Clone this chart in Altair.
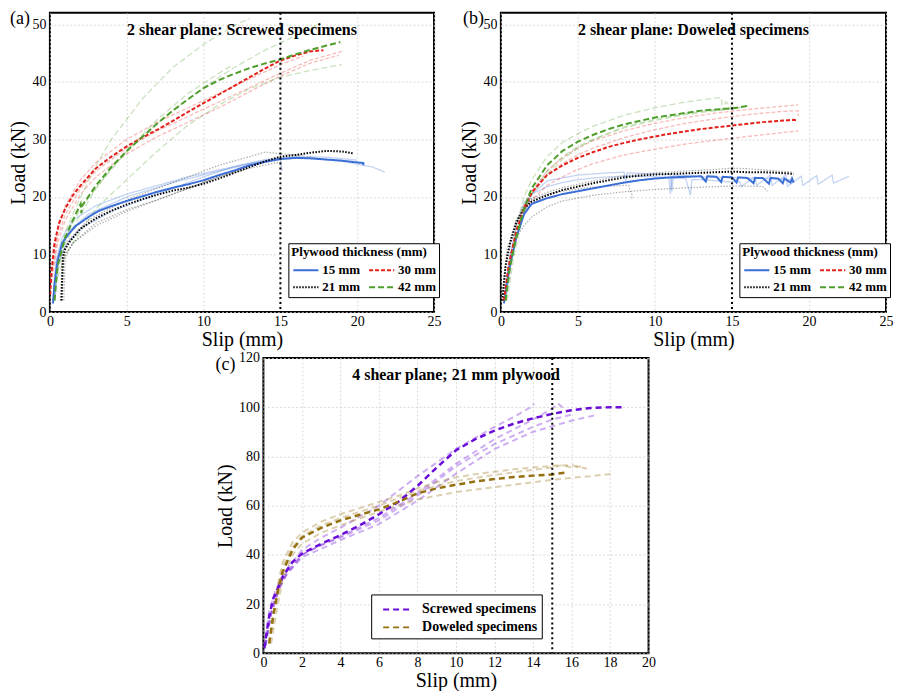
import altair as alt
import pandas as pd

FONT = "Liberation Serif"

# ---------------- Panel (a): 2 shear plane, screwed specimens ----------------
a15_x = [0.2, 0.3, 0.5, 0.8, 1.2, 1.7, 2.5, 3.2, 4, 5, 6, 7, 8, 9, 10, 11, 12, 13, 14, 15, 16, 17, 18, 19, 20, 20.4, 20.4]
a15_y = [1.5, 5, 9, 12, 13.5, 15, 16.5, 17.6, 18.4, 19.3, 20.1, 20.9, 21.6, 22.2, 22.9, 23.8, 24.6, 25.5, 26.1, 26.6, 26.8, 26.7, 26.5, 26.3, 26.0, 25.9, 25.5]
a21_x = [0.75, 0.8, 0.85, 1.0, 1.3, 2, 3, 4, 5, 6, 7, 8, 9, 10, 11, 12, 13, 14, 15, 16, 17, 18, 19, 19.7]
a21_y = [2, 6, 9.5, 11, 12.3, 14.5, 16.3, 17.6, 18.7, 19.6, 20.4, 21.1, 21.6, 22.3, 23.2, 24.2, 25.2, 26.2, 27, 27.3, 27.7, 28, 27.9, 27.6]
a30_x = [0.02, 0.1, 0.3, 0.6, 1.0, 1.5, 2, 3, 4, 5, 6, 7, 8, 9, 10, 11, 12, 13, 14, 15, 16, 17, 17.8]
a30_y = [3, 7, 12, 15.5, 18, 20.3, 22, 25, 27, 28.8, 30.3, 31.7, 33.2, 34.8, 36.3, 37.8, 39.3, 40.8, 42.3, 43.7, 44.6, 45.3, 45.5]
a42_x = [0.3, 0.5, 1, 1.5, 2, 2.05, 2.1, 3, 4, 5, 6, 7, 8, 9, 10, 11, 12, 13, 14, 15, 16, 17, 18, 18.9]
a42_y = [2, 8, 13, 16, 18.8, 17.2, 18.5, 22, 25.2, 28, 30.4, 32.8, 35, 37, 38.9, 40.3, 41.4, 42.4, 43.2, 43.9, 44.8, 45.6, 46.3, 46.9]

# individual specimens (faint)
a15f1_x = [0.2, 0.4, 0.8, 1.5, 3, 5, 7, 9, 11, 13, 15, 17, 19, 21, 21.8]
a15f1_y = [2, 9, 13, 16, 18.5, 20.5, 22, 23.5, 24.7, 25.8, 26.6, 26.8, 26.2, 25.2, 24.3]
a15f2_x = [0.3, 0.5, 1, 2, 4, 6, 8, 10, 12, 14, 15, 15.1]
a15f2_y = [2, 8, 11.5, 14.5, 17.5, 19.5, 21.5, 23.5, 25.3, 26.5, 26.8, 24.5]
a15f3_x = [0.3, 0.6, 1.2, 2.5, 5, 8, 11, 14, 16, 18, 20]
a15f3_y = [2, 10, 14, 17, 20, 22.5, 24.5, 26.3, 27, 26.9, 26.4]
a21f1_x = [0.9, 1, 1.5, 3, 5, 7, 9, 11, 13, 14.5, 15]
a21f1_y = [2, 10, 12, 15.5, 17.8, 19.5, 21.5, 23.5, 25, 25.8, 26]
a21f2_x = [0.7, 0.8, 1.2, 2.5, 5, 7, 9, 11, 13, 14, 15, 16.5]
a21f2_y = [2, 10, 12.5, 16, 19.5, 21.5, 23.5, 25.5, 27, 27.8, 27.5, 27.2]
a21f3_x = [0.8, 0.9, 1.5, 3, 5, 8, 11, 13, 15, 17]
a21f3_y = [2, 9, 12, 15, 17.5, 20.5, 23.5, 25.5, 26.5, 27]
a30f1_x = [0.1, 0.5, 1, 2, 3, 5, 7, 9, 11, 13, 15, 17, 19]
a30f1_y = [6, 13, 17, 21.5, 24.5, 28.5, 31.5, 34, 36.5, 39, 41.5, 43.8, 45.3]
a30f2_x = [0.1, 0.5, 1, 2, 3, 5, 7, 9, 11, 13, 15, 17, 18.8]
a30f2_y = [5, 12, 16, 20.5, 23.5, 27.5, 30.5, 33, 35.5, 38.3, 41, 43.3, 44.6]
a30f3_x = [0.1, 0.5, 1, 2, 3, 5, 7, 9, 11, 13, 15, 16.5]
a30f3_y = [7, 14, 18.5, 23, 26, 30, 33, 35.5, 38, 40.5, 43, 44.5]
a42f1_x = [0.5, 1, 2, 3, 4, 6, 8, 10, 12, 13]
a42f1_y = [8, 14, 20, 25.5, 30, 37, 42.5, 46.5, 49.8, 51]
a42f2_x = [0.5, 1, 2, 3, 5, 7, 9, 11, 11.8]
a42f2_y = [7, 12, 17, 21.5, 28, 33.5, 38, 41.5, 42.8]
a42f3_x = [0.5, 1, 2, 3, 5, 7, 9, 11, 13, 15, 17, 19]
a42f3_y = [6, 10, 14, 18, 23, 28, 32.5, 36, 38.8, 40.8, 42, 43]
a42f4_x = [0.5, 1, 2, 4, 6, 8, 10, 12, 14, 16, 17.6]
a42f4_y = [8, 13, 18, 25, 30.5, 35, 39, 42.5, 45.5, 48, 50.2]

# ---------------- Panel (b): 2 shear plane, doweled specimens ----------------
b15_x = [0.2, 0.5, 1, 1.5, 2, 3, 4, 5, 6, 7, 8, 9, 10, 11, 12, 13, 13.3, 13.4, 14, 14.3, 14.4, 15, 15.3, 15.4, 16, 16.4, 16.5, 17, 17.4, 17.5, 18, 18.3, 18.4, 18.8, 18.9, 19]
b15_y = [1.5, 7, 13, 17, 18.8, 19.8, 20.5, 21, 21.5, 22, 22.5, 22.9, 23.2, 23.4, 23.5, 23.6, 22.7, 23.6, 23.5, 22.6, 23.5, 23.4, 22.5, 23.4, 23.3, 22.4, 23.3, 23.3, 22.3, 23.3, 23.2, 22.4, 23.2, 22.5, 23.2, 22.5]
b21_x = [0.1, 0.3, 0.6, 1, 1.5, 2, 3, 4, 5, 6, 7, 8, 9, 10, 11, 12, 13, 14, 15, 16, 17, 18, 19]
b21_y = [2, 8, 12, 15.5, 18, 19.2, 20.3, 21.2, 21.8, 22.4, 22.9, 23.4, 23.7, 23.9, 24, 24.1, 24.2, 24.3, 24.4, 24.3, 24.3, 24.2, 24]
b30_x = [0.2, 0.5, 1, 1.5, 2, 3, 4, 5, 6, 7, 8, 9, 10, 11, 12, 13, 14, 15, 16, 17, 18, 19, 19.2]
b30_y = [2, 8, 14, 18, 20.8, 23.8, 25.5, 26.8, 27.8, 28.7, 29.4, 30, 30.5, 31, 31.4, 31.8, 32.1, 32.4, 32.7, 33, 33.2, 33.4, 33.3]
b42_x = [0.3, 0.6, 1, 1.5, 2, 3, 4, 5, 6, 7, 8, 9, 10, 11, 12, 13, 14, 15, 16]
b42_y = [2, 8, 13, 18, 21.5, 25.5, 28, 29.6, 30.8, 31.8, 32.6, 33.2, 33.8, 34.2, 34.6, 35, 35.2, 35.4, 35.8]

b15f1_x = [0.2, 0.6, 1, 1.5, 2, 3, 4, 5, 6, 7, 8, 9, 10, 10.9, 11, 11.1, 12, 12.3, 12.4, 13, 14, 15, 15.5, 15.6, 16.5, 16.6, 17.5, 17.6, 18.5, 18.6, 19.5, 19.6, 20.5, 20.6, 21.5, 21.6, 22.6]
b15f1_y = [2, 10, 15, 19, 20.5, 21.8, 22.5, 23, 23.3, 23.5, 23.6, 23.6, 23.5, 23.4, 20.5, 23.3, 23.2, 20.3, 23, 23, 22.8, 22.6, 22.7, 21.8, 23.5, 22, 23.8, 22, 23.8, 21.8, 23.6, 22, 23.7, 22.2, 23.8, 22.4, 23.6]
b15f2_x = [0.3, 0.8, 1.5, 2, 3, 5, 7, 8, 8.1, 8.2, 9, 10, 11, 11.1, 11.2, 12, 13, 14, 15, 16, 17, 18, 19]
b15f2_y = [2, 11, 17, 20.5, 22.8, 23.8, 24.2, 24.3, 22.8, 24.2, 24.1, 24, 23.9, 21, 23.8, 23.7, 23.5, 23.4, 23.4, 23.3, 23.2, 23.1, 23]
b21f1_x = [0.2, 0.6, 1, 1.5, 2, 3, 4, 5, 6, 8, 10, 12, 14, 15, 16, 17, 17.3]
b21f1_y = [3, 10, 13, 15, 16.5, 18.3, 19.3, 19.8, 20.3, 20.9, 21.3, 21.6, 21.8, 21.9, 21.9, 21.8, 21]
b21f2_x = [0.1, 0.4, 1, 1.5, 2, 3, 4, 5, 6, 7, 8, 8.3, 8.4, 8.5, 8.5]
b21f2_y = [3, 10, 16, 18.5, 19.5, 20.5, 21, 21.4, 21.7, 21.9, 22, 22, 21, 20.5, 19.5]
b21f3_x = [0.1, 0.4, 1, 2, 3, 4, 6, 8, 10, 12, 14, 15, 16, 17, 18, 19]
b21f3_y = [3, 11, 16, 19.8, 20.8, 21.6, 22.8, 23.7, 24.2, 24.5, 24.8, 25, 24.9, 24.7, 24.5, 24.3]
b30f1_x = [0.2, 0.6, 1, 1.5, 2, 3, 4, 5, 6, 8, 10, 12, 14, 16, 18, 19.3]
b30f1_y = [2, 9, 14, 17.5, 19.5, 22, 23.5, 24.8, 25.8, 27.3, 28.3, 29.2, 29.9, 30.5, 31.1, 31.5]
b30f2_x = [0.2, 0.6, 1, 1.5, 2, 3, 4, 5, 6, 8, 10, 12, 14, 16, 18, 19.3]
b30f2_y = [2, 9, 14.5, 18.5, 21, 24.5, 26.8, 28.5, 29.8, 31.5, 32.8, 33.8, 34.6, 35.2, 35.7, 36]
b30f3_x = [0.2, 0.6, 1, 1.5, 2, 3, 4, 5, 6, 8, 10, 12, 14, 16, 18, 19.3, 19.3]
b30f3_y = [2, 9, 14, 18, 20.5, 23.8, 25.8, 27.3, 28.5, 30.3, 31.7, 32.8, 33.6, 34.3, 34.8, 35, 34]
b42f1_x = [0.3, 0.6, 1, 1.5, 2, 3, 4, 5, 6, 8, 10, 12, 14, 14.3, 14.4, 14.6, 15]
b42f1_y = [2, 9, 15, 20, 23, 27, 29.5, 31, 32.3, 34.2, 35.5, 36.5, 37.2, 37.3, 35, 36.5, 35.5]
b42f2_x = [0.3, 0.6, 1, 1.5, 2, 3, 4, 5, 6, 8, 10, 12, 14, 15, 16]
b42f2_y = [2, 8, 13, 17.5, 20.5, 24.5, 27, 28.8, 30, 32, 33.3, 34.3, 35, 35.3, 35.8]
b42f3_x = [0.4, 0.8, 1.2, 1.6, 2, 3, 4, 5, 6, 8, 10, 12, 14, 15]
b42f3_y = [2, 9, 14, 18, 20.5, 24, 26.5, 28.5, 30, 32.2, 33.5, 34.5, 35.2, 35.5]

# ---------------- Panel (c): 4 shear plane, 21 mm plywood ----------------
csc_x = [0.05, 0.1, 0.3, 0.5, 1, 1.5, 2, 3, 4, 5, 6, 7, 8, 9, 10, 11, 12, 13, 14, 15, 16, 17, 18, 18.7]
csc_y = [2, 5, 15, 22, 31, 37, 40.5, 44.5, 48, 52, 56.5, 61.5, 68, 75.5, 82.5, 87, 90.5, 93.3, 95.5, 97.3, 98.8, 99.7, 100, 100]
cdw_x = [0.3, 0.5, 0.8, 1, 1.5, 2, 3, 4, 5, 6, 7, 8, 9, 10, 11, 12, 13, 14, 15, 15.8]
cdw_y = [4, 15, 27, 33, 42, 47, 51, 54, 56.3, 58.5, 61.5, 65, 67, 68.5, 69.8, 70.8, 71.6, 72.2, 72.7, 73.5]

cscf1_x = [0.05, 0.3, 0.6, 1, 2, 3, 4, 6, 8, 10, 12, 13, 14, 14.05]
cscf1_y = [3, 17, 25, 32, 42, 47, 51, 60, 72, 83, 92, 96, 100.5, 101.5]
cscf2_x = [0.1, 0.4, 0.8, 1.2, 2, 3, 4, 6, 8, 10, 12, 14, 15, 15.3, 15.6]
cscf2_y = [3, 17, 27, 33, 40, 44, 47.5, 55, 65, 77, 87, 95, 99.5, 101.5, 99.5]
cscf3_x = [0.1, 0.4, 0.8, 1.2, 2, 3, 4, 6, 8, 10, 12, 14, 16, 17.2]
cscf3_y = [3, 16, 26, 32, 39, 42.5, 46, 52.5, 62, 73, 83, 90, 94.5, 96.7]
cscf4_x = [0.1, 0.4, 0.8, 1.2, 2, 3, 4, 6, 8, 10, 12, 14, 15, 16]
cscf4_y = [3, 16, 26, 32, 40, 44, 47, 54, 64, 76, 85, 92, 95, 97]
cdwf1_x = [0.3, 0.5, 0.8, 1, 1.5, 2, 3, 4, 5, 6, 7, 8, 9, 10, 11, 12, 13, 14, 15, 16, 16.8]
cdwf1_y = [4, 14, 30, 37, 45, 49, 53.5, 56.5, 59, 61.5, 64, 67, 69.5, 71.5, 72.8, 73.8, 74.8, 75.5, 76.2, 76.5, 75]
cdwf2_x = [0.4, 0.7, 1, 1.5, 2, 3, 4, 6, 8, 10, 12, 14, 15, 16, 17, 18.2]
cdwf2_y = [4, 18, 30, 40, 44.5, 49, 52, 57.5, 62.5, 65.5, 67.5, 69.5, 70.5, 71.3, 72, 73]
cdwf3_x = [0.3, 0.6, 1, 1.5, 2, 3, 4, 6, 8, 10, 12, 14, 15, 15.5, 16, 16.6]
cdwf3_y = [4, 20, 35, 43, 47.5, 52, 55, 60, 66, 70, 72.5, 74.5, 75.5, 76.5, 75.5, 76]

# ---------------- categories / styles ----------------
ply_groups = ["15 mm", "21 mm", "30 mm", "42 mm"]
ply_colors = ["#3b6fd6", "#000000", "#e3211c", "#4f9e2b"]
ply_dashes = [[1, 0], [1.5, 1.5], [4, 2], [6, 3]]
c_groups = ["Screwed specimens", "Doweled specimens"]
c_colors = ["#6a0bd8", "#94700f"]
c_dashes = [[6, 4], [6, 4]]


def to_df(curves):
    rows = []
    for name, grp, xs, ys in curves:
        for i, (x, y) in enumerate(zip(xs, ys)):
            rows.append({"spec": name, "group": grp, "x": x, "y": y, "i": i})
    return pd.DataFrame(rows)


def panel(mean_curves, faint_curves, domain, colors, dashes, legend, title, letter,
          letter_dx, letter_dy, xdom, xticks, ydom, yticks, w, h, mean_w, faint_w, faint_op):
    xs = alt.Scale(domain=xdom, nice=False, zero=False)
    ys = alt.Scale(domain=ydom, nice=False, zero=False)
    xax = alt.Axis(values=xticks, title="Slip (mm)", format="d", titlePadding=1,
                   labelPadding=2, labelOverlap=False, labelFlush=False, labelSeparation=0)
    yax = alt.Axis(values=yticks, title="Load (kN)", format="d", titlePadding=3,
                   labelPadding=4, labelOverlap=False, labelFlush=False)
    cs = alt.Scale(domain=domain, range=colors)
    ds = alt.Scale(domain=domain, range=dashes)

    def enc():
        return dict(
            x=alt.X("x:Q", scale=xs, axis=xax),
            y=alt.Y("y:Q", scale=ys, axis=yax),
            color=alt.Color("group:N", scale=cs, legend=legend, sort=domain),
            strokeDash=alt.StrokeDash("group:N", scale=ds, legend=legend, sort=domain),
            detail="spec:N",
            order="i:Q",
        )

    faint = alt.Chart(to_df(faint_curves)).mark_line(
        clip=True, opacity=faint_op, strokeWidth=faint_w).encode(**enc())
    mean = alt.Chart(to_df(mean_curves)).mark_line(
        clip=True, strokeWidth=mean_w).encode(**enc())
    rule = alt.Chart(pd.DataFrame({"x": [15]})).mark_rule(
        color="black", strokeDash=[2, 3], strokeWidth=2).encode(
        x=alt.X("x:Q", scale=xs, axis=xax))
    ttl = alt.Chart(pd.DataFrame({"t": [title]})).mark_text(
        font=FONT, fontSize=16, fontWeight="bold", align="center", baseline="middle",
        color="black").encode(text="t:N", x=alt.value(w / 2), y=alt.value(17))
    let = alt.Chart(pd.DataFrame({"t": [letter]})).mark_text(
        font=FONT, fontSize=18, align="left", baseline="alphabetic",
        color="black").encode(text="t:N", x=alt.value(letter_dx), y=alt.value(letter_dy))
    return alt.layer(faint, mean, rule, ttl, let).properties(width=w, height=h)


ply_legend = alt.Legend(
    title="Plywood thickness (mm)", orient="none", legendX=239, legendY=231, columns=2,
    symbolType="M-0.9,0H1.9", symbolSize=324, symbolStrokeWidth=2, symbolOpacity=1,
    strokeColor="black", fillColor="white", padding=3, cornerRadius=0,
    titleFont=FONT, titleFontSize=13, titleFontWeight="bold", titleColor="black",
    labelFont=FONT, labelFontSize=13, labelFontWeight="bold", labelColor="black",
    columnPadding=4, rowPadding=0, titlePadding=1, labelOffset=11)

c_legend = alt.Legend(
    title=None, orient="none", legendX=108, legendY=237, columns=1,
    symbolType="M-0.3,0H2.7", symbolSize=400, symbolStrokeWidth=2, symbolOpacity=1,
    strokeColor="black", fillColor="white", padding=4, cornerRadius=0,
    labelFont=FONT, labelFontSize=14, labelFontWeight="bold", labelColor="black",
    rowPadding=0, labelOffset=25)

A = panel(
    [("m15", "15 mm", a15_x, a15_y), ("m21", "21 mm", a21_x, a21_y),
     ("m30", "30 mm", a30_x, a30_y), ("m42", "42 mm", a42_x, a42_y)],
    [("f15a", "15 mm", a15f1_x, a15f1_y), ("f15b", "15 mm", a15f2_x, a15f2_y),
     ("f15c", "15 mm", a15f3_x, a15f3_y), ("f21a", "21 mm", a21f1_x, a21f1_y),
     ("f21b", "21 mm", a21f2_x, a21f2_y), ("f21c", "21 mm", a21f3_x, a21f3_y),
     ("f30a", "30 mm", a30f1_x, a30f1_y), ("f30b", "30 mm", a30f2_x, a30f2_y),
     ("f30c", "30 mm", a30f3_x, a30f3_y), ("f42a", "42 mm", a42f1_x, a42f1_y),
     ("f42b", "42 mm", a42f2_x, a42f2_y), ("f42c", "42 mm", a42f3_x, a42f3_y),
     ("f42d", "42 mm", a42f4_x, a42f4_y)],
    ply_groups, ply_colors, ply_dashes, ply_legend,
    "2 shear plane: Screwed specimens", "(a)", -40, 11,
    [0, 25], [0, 5, 10, 15, 20, 25], [0, 52], [0, 10, 20, 30, 40, 50],
    385, 300, 2, 1.3, 0.3)

B = panel(
    [("m15", "15 mm", b15_x, b15_y), ("m21", "21 mm", b21_x, b21_y),
     ("m30", "30 mm", b30_x, b30_y), ("m42", "42 mm", b42_x, b42_y)],
    [("f15a", "15 mm", b15f1_x, b15f1_y), ("f15b", "15 mm", b15f2_x, b15f2_y),
     ("f21a", "21 mm", b21f1_x, b21f1_y), ("f21b", "21 mm", b21f2_x, b21f2_y),
     ("f21c", "21 mm", b21f3_x, b21f3_y), ("f30a", "30 mm", b30f1_x, b30f1_y),
     ("f30b", "30 mm", b30f2_x, b30f2_y), ("f30c", "30 mm", b30f3_x, b30f3_y),
     ("f42a", "42 mm", b42f1_x, b42f1_y), ("f42b", "42 mm", b42f2_x, b42f2_y),
     ("f42c", "42 mm", b42f3_x, b42f3_y)],
    ply_groups, ply_colors, ply_dashes, ply_legend,
    "2 shear plane: Doweled specimens", "(b)", -38, 11,
    [0, 25], [0, 5, 10, 15, 20, 25], [0, 52], [0, 10, 20, 30, 40, 50],
    386, 300, 2, 1.3, 0.3)

C = panel(
    [("msc", "Screwed specimens", csc_x, csc_y), ("mdw", "Doweled specimens", cdw_x, cdw_y)],
    [("fsa", "Screwed specimens", cscf1_x, cscf1_y), ("fsb", "Screwed specimens", cscf2_x, cscf2_y),
     ("fsc", "Screwed specimens", cscf3_x, cscf3_y), ("fsd", "Screwed specimens", cscf4_x, cscf4_y),
     ("fda", "Doweled specimens", cdwf1_x, cdwf1_y), ("fdb", "Doweled specimens", cdwf2_x, cdwf2_y),
     ("fdc", "Doweled specimens", cdwf3_x, cdwf3_y)],
    c_groups, c_colors, c_dashes, c_legend,
    "4 shear plane; 21 mm plywood", "(c)", -48, 12,
    [0, 20], [0, 2, 4, 6, 8, 10, 12, 14, 16, 18, 20], [0, 120], [0, 20, 40, 60, 80, 100, 120],
    386, 296, 2.5, 2, 0.33)

spacer = alt.Chart(pd.DataFrame({"v": [0]})).mark_point(opacity=0).encode(
    x=alt.X("v:Q", axis=None, scale=alt.Scale(domain=[-1, 1])),
    y=alt.Y("v:Q", axis=None, scale=alt.Scale(domain=[-1, 1])),
).properties(width=164, height=20, view=alt.ViewBackground(stroke="transparent"))

top = alt.hconcat(A, B, spacing=17).resolve_scale(
    color="independent", strokeDash="independent", x="independent", y="independent"
).resolve_legend(color="independent", strokeDash="independent")
bottom = alt.hconcat(spacer, C, spacing=0).resolve_scale(
    color="independent", strokeDash="independent", x="independent", y="independent"
).resolve_legend(color="independent", strokeDash="independent")

chart = alt.vconcat(top, bottom, spacing=0).resolve_scale(
    color="independent", strokeDash="independent", x="independent", y="independent"
).resolve_legend(color="independent", strokeDash="independent").properties(
    padding={"left": 0, "top": 0, "right": 0, "bottom": 0}, background="white"
).configure_view(stroke="black", strokeWidth=2).configure_axis(
    labelFont=FONT, labelFontSize=14, labelColor="black",
    titleFont=FONT, titleFontSize=20, titleFontWeight="normal", titleColor="black",
    grid=True, gridColor="#cfcfcf", gridDash=[2, 2], gridWidth=0.8,
    domain=False, ticks=False, labelOverlap=False
)

chart.save("out.html", embed_options={"renderer": "svg", "actions": False})
